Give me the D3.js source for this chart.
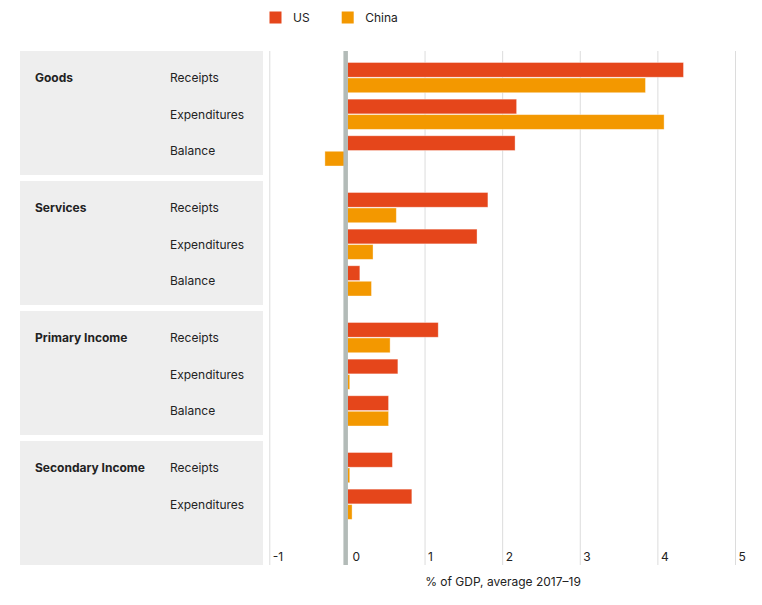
<!DOCTYPE html>
<html>
<head>
<meta charset="utf-8">
<script src="https://cdn.jsdelivr.net/npm/d3@7"></script>
<style>
  body { margin: 0; background: #fff; }
  text { font-family: Inter, "Noto Sans", sans-serif; fill: #222; }
</style>
</head>
<body>
<svg id="chart" width="762" height="605"></svg>
<script>
const groups = ["Goods", "Services", "Primary Income", "Secondary Income"];
const rowsPerGroup = [
  ["Receipts", "Expenditures", "Balance"],
  ["Receipts", "Expenditures", "Balance"],
  ["Receipts", "Expenditures", "Balance"],
  ["Receipts", "Expenditures"]
];
const series = ["US", "China"];
const usValues = [
  [4.33, 2.18, 2.16],
  [1.81, 1.67, 0.16],
  [1.17, 0.65, 0.53],
  [0.58, 0.83]
];
const chinaValues = [
  [3.84, 4.08, -0.29],
  [0.63, 0.33, 0.31],
  [0.55, 0.03, 0.53],
  [0.03, 0.06]
];
const xTicks = [-1, 0, 1, 2, 3, 4, 5];
const axisTitle = "% of GDP, average 2017\u201319";
const colors = { US: "#e5461b", China: "#f39800" };

const svg = d3.select("#chart");

const x = d3.scaleLinear().domain([-1, 5]).range([269.8, 735.5]);
const yGroup = d3.scaleBand().domain(groups).range([51, 565]).paddingInner(6 / 130).paddingOuter(0);
const slotNames = ["Receipts", "Expenditures", "Balance"];
const yRow = d3.scaleBand().domain(slotNames).range([11.5, 115]).paddingInner(0.175);
const ySeries = d3.scaleBand().domain(series).range([0, yRow.bandwidth()]).paddingInner(0.05);

// panels
svg.selectAll("rect.panel").data(groups).join("rect")
  .attr("class", "panel")
  .attr("x", 20).attr("width", 243)
  .attr("y", d => yGroup(d)).attr("height", yGroup.bandwidth())
  .attr("fill", "#eeeeee");

// grid lines
svg.selectAll("line.grid").data(xTicks.filter(t => t !== 0)).join("line")
  .attr("class", "grid")
  .attr("x1", d => x(d)).attr("x2", d => x(d))
  .attr("y1", 51).attr("y2", 565)
  .attr("stroke", "#dcdcdc").attr("stroke-width", 1);

// tick labels
svg.selectAll("text.tick").data(xTicks).join("text")
  .attr("class", "tick")
  .attr("x", d => x(d) + (d === 0 ? 5 : 3))
  .attr("y", 561)
  .attr("font-size", 12)
  .text(d => d);

// axis title
svg.append("text")
  .attr("x", 503).attr("y", 586)
  .attr("text-anchor", "middle")
  .attr("font-size", 12)
  .text(axisTitle);

// group & row labels, bars
groups.forEach((g, gi) => {
  const gy = yGroup(g);
  const gEl = svg.append("g").attr("transform", `translate(0,${gy})`);
  gEl.append("text")
    .attr("x", 35)
    .attr("y", yRow(rowsPerGroup[gi][0]) + yRow.bandwidth() / 2 + 4.5)
    .attr("font-size", 12).attr("font-weight", 700)
    .text(g);
  rowsPerGroup[gi].forEach((r, ri) => {
    const ry = yRow(r);
    gEl.append("text")
      .attr("x", 170)
      .attr("y", ry + yRow.bandwidth() / 2 + 4.5)
      .attr("font-size", 12)
      .text(r);
    const vals = { US: usValues[gi][ri], China: chinaValues[gi][ri] };
    series.forEach(s => {
      const v = vals[s];
      gEl.append("rect")
        .attr("x", x(Math.min(0, v)))
        .attr("width", Math.abs(x(v) - x(0)))
        .attr("y", ry + ySeries(s))
        .attr("height", ySeries.bandwidth())
        .attr("fill", colors[s])
        .attr("stroke", "rgba(255,255,255,0.45)")
        .attr("stroke-width", 0.8);
    });
  });
});

// zero line
svg.append("rect")
  .attr("x", x(0) - 4).attr("width", 4.5)
  .attr("y", 51).attr("height", 514)
  .attr("fill", "#b3bbb8");

// legend
const legend = svg.append("g");
const legendX = [269.5, 341.7];
series.forEach((s, i) => {
  legend.append("rect")
    .attr("x", legendX[i]).attr("y", 11.5)
    .attr("width", 12).attr("height", 12)
    .attr("fill", colors[s]);
  legend.append("text")
    .attr("x", legendX[i] + 23.5).attr("y", 22)
    .attr("font-size", 12)
    .text(s);
});
</script>
</body>
</html>
